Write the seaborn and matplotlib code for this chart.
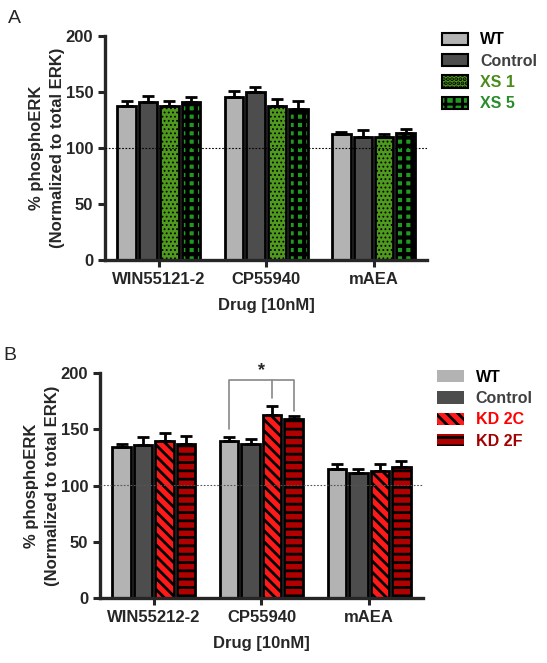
import pandas as pd
import matplotlib
matplotlib.use("Agg")
import matplotlib.pyplot as plt
import seaborn as sns
from matplotlib.patches import Patch

# panel A data
drugs_a = ['WIN55121-2', 'CP55940', 'mAEA']
groups_a = ['WT', 'Control', 'XS 1', 'XS 5']
means_a = {
    'WT':      [137, 145, 112.5],
    'Control': [141, 149.5, 110],
    'XS 1':    [137, 137, 109.5],
    'XS 5':    [141, 135, 113.5],
}
errs_a = {
    'WT':      [4.5, 5.5, 1.5],
    'Control': [5, 4.5, 6],
    'XS 1':    [4.5, 7, 3],
    'XS 5':    [4.5, 7, 3.5],
}

# panel B data
drugs_b = ['WIN55212-2', 'CP55940', 'mAEA']
groups_b = ['WT', 'Control', 'KD 2C', 'KD 2F']
means_b = {
    'WT':      [134, 140, 115],
    'Control': [136, 137, 111],
    'KD 2C':   [139.5, 163, 113],
    'KD 2F':   [137, 159, 117],
}
errs_b = {
    'WT':      [3, 3, 4],
    'Control': [7, 4.5, 4],
    'KD 2C':   [7.5, 7.5, 6.5],
    'KD 2F':   [7.5, 3, 5],
}

# fill, hatch, hatch width, legend edge width, label colour
style_a = {
    'WT':      ('#b3b3b3', '', 2, 1.5, 'black'),
    'Control': ('#4d4d4d', '', 2, 1.5, '#404040'),
    'XS 1':    ('#4f9a1e', '....', 0.8, 1.5, '#4a8c1a'),
    'XS 5':    ('#1f9a1f', '++', 3, 1.5, '#2a8c2a'),
}
style_b = {
    'WT':      ('#b3b3b3', '', 2, 0, 'black'),
    'Control': ('#4d4d4d', '', 2, 0, '#404040'),
    'KD 2C':   ('#ff1a1a', '\\\\\\', 2, 0, '#ff0000'),
    'KD 2F':   ('#b00000', '--', 2, 0, '#a00000'),
}

sns.set_style("ticks")
plt.rcParams['font.family'] = ['Liberation Sans', 'DejaVu Sans']
plt.rcParams['font.weight'] = 'bold'
plt.rcParams['hatch.linewidth'] = 2.0


def long_df(drugs, groups, means):
    rows = []
    for g in groups:
        for d, v in zip(drugs, means[g]):
            rows.append({'Drug': d, 'Group': g, 'Value': v})
    return pd.DataFrame(rows)


def set_hatch(p, hatch, lw):
    p.set_hatch(hatch)
    if hasattr(p, 'set_hatch_linewidth'):
        p.set_hatch_linewidth(lw)


def draw_panel(ax, drugs, groups, means, errs, style, refline, linecol, letter):
    df = long_df(drugs, groups, means)
    pal = {g: style[g][0] for g in groups}
    sns.barplot(data=df, x='Drug', y='Value', hue='Group', hue_order=groups,
                palette=pal, width=0.8, gap=0.14, edgecolor='black',
                linewidth=2, saturation=1, legend=False, ax=ax)
    for g, cont in zip(groups, ax.containers):
        xs, tops = [], []
        for bar in cont:
            set_hatch(bar, style[g][1], style[g][2])
            xs.append(bar.get_x() + bar.get_width() / 2)
            tops.append(bar.get_height())
        ax.errorbar(xs, tops, yerr=[[0] * len(xs), errs[g]], fmt='none',
                    ecolor='black', elinewidth=2, capsize=4.5, capthick=2,
                    zorder=1)
    ax.axhline(refline, color=linecol, ls=(0, (1.5, 1.5)), lw=0.8, zorder=5)
    ax.set_ylim(0, 200)
    ax.set_xlim(-0.5, 2.5)
    ax.set_yticks([0, 50, 100, 150, 200])
    ax.set_ylabel('% phosphoERK\n(Normalized to total ERK)', fontsize=12,
                  fontweight='bold', linespacing=1.45)
    ax.yaxis.set_label_coords(-0.125, 0.5)
    ax.set_xlabel('Drug [10nM]', fontsize=12, fontweight='bold', labelpad=8)
    ax.tick_params(width=2.2, length=5, labelsize=12)
    for lab in ax.get_xticklabels() + ax.get_yticklabels():
        lab.set_fontweight('bold')
    sns.despine(ax=ax)
    for s in ['left', 'bottom']:
        ax.spines[s].set_linewidth(2.4)
    handles = []
    for g in groups:
        h = Patch(facecolor=style[g][0], edgecolor='black', linewidth=style[g][3])
        set_hatch(h, style[g][1], style[g][2])
        handles.append(h)
    leg = ax.legend(handles, groups, loc='upper left',
                    bbox_to_anchor=(1.0, 1.08), frameon=False,
                    handlelength=1.65, handleheight=0.8, labelspacing=0.4,
                    handletextpad=0.75, prop={'weight': 'bold', 'size': 11.5})
    for t, g in zip(leg.get_texts(), groups):
        t.set_color(style[g][4])
    ax.text(-0.3, 1.04, letter, transform=ax.transAxes, fontsize=14,
            fontweight='normal', va='bottom')
    return ax


fig = plt.figure(figsize=(5.47, 6.63), dpi=100)
ax_a = fig.add_axes([0.192, 0.608, 0.589, 0.338])
ax_b = fig.add_axes([0.183, 0.098, 0.590, 0.339])

draw_panel(ax_a, drugs_a, groups_a, means_a, errs_a, style_a, 100, 'black', 'A')
draw_panel(ax_b, drugs_b, groups_b, means_b, errs_b, style_b, 101, '#555555', 'B')

# significance bracket on CP55940
c = ax_b.containers
x_wt = c[0][1].get_x() + c[0][1].get_width() / 2
x_2c = c[2][1].get_x() + c[2][1].get_width() / 2
x_2f = c[3][1].get_x() + c[3][1].get_width() / 2
top = 194
ax_b.plot([x_wt, x_wt, x_2f, x_2f], [150, top, top, 166], color='#888888',
          lw=1.2, clip_on=False)
ax_b.plot([x_2c, x_2c], [top, 178], color='#888888', lw=1.2, clip_on=False)
ax_b.text((x_wt + x_2f) / 2, top + 1, '*', ha='center', va='bottom',
          fontsize=13, fontweight='bold')

fig.savefig('out.png', dpi=100)
